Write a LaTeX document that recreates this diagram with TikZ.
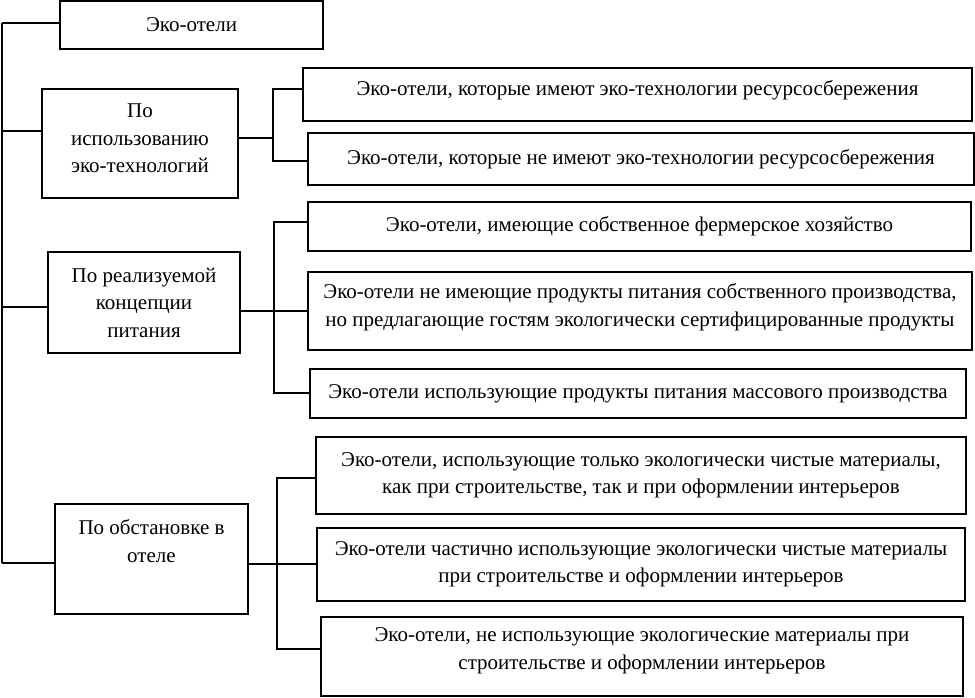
\documentclass[tikz,border=0pt]{standalone}
\usepackage{fontspec}
\setmainfont{Liberation Serif}
\begin{document}
\begin{tikzpicture}[x=1pt,y=-1pt,
  box/.style={draw, line width=1.3pt, inner sep=0pt, align=center,
    font=\fontsize{21}{27.5}\selectfont},
  txt/.style={inner sep=0pt, align=center, font=\fontsize{21}{27.5}\selectfont},
  conn/.style={line width=1.3pt}]
\useasboundingbox (0,0) rectangle (975,698);
% left column
\node[box, minimum width=263, minimum height=48] (T) at (191.5,25) {Эко-отели};
\node[box, minimum width=196, minimum height=109] (B1) at (140,143.5) {};
\node[txt] (B1t) at (140,138.5) {По\\использованию\\эко-технологий};
\node[box, minimum width=192, minimum height=101] (B2) at (144,302.5) {По реализуемой\\концепции\\питания};
\node[box, minimum width=193, minimum height=110] (B3) at (151.5,559) {По обстановке в\\отеле\\\strut};
% right column
\node[box, minimum width=669, minimum height=53] (A) at (637.5,94.5) {};
\node[txt] (At) at (637.5,90) {Эко-отели, которые имеют эко-технологии ресурсосбережения};
\node[box, minimum width=666, minimum height=52] (B) at (641,159) {Эко-отели, которые не имеют эко-технологии ресурсосбережения};
\node[box, minimum width=663, minimum height=49] (C) at (639.5,226.5) {Эко-отели, имеющие собственное фермерское хозяйство};
\node[box, minimum width=664, minimum height=78] (D) at (640,311) {};
\node[txt] (Dt) at (640,307) {Эко-отели не имеющие продукты питания собственного производства,\\но предлагающие гостям экологически сертифицированные продукты};
\node[box, minimum width=656, minimum height=49] (E) at (638,393.5) {Эко-отели использующие продукты питания массового производства};
\node[box, minimum width=650, minimum height=77] (F) at (641,475.5) {Эко-отели, использующие только экологически чистые материалы,\\как при строительстве, так и при оформлении интерьеров};
\node[box, minimum width=648, minimum height=73] (G) at (641,564.5) {Эко-отели частично использующие экологически чистые материалы\\при строительстве и оформлении интерьеров};
\node[box, minimum width=642, minimum height=79] (H) at (642,656.5) {};
\node[txt] (Ht) at (642,651) {Эко-отели, не использующие экологические материалы при\\строительстве и оформлении интерьеров};
% trunk
\coordinate (tr0) at (2,23);
\coordinate (tr1) at (2,563);
\draw[conn] (tr0) -- (tr1);
\draw[conn] (tr0) -- (T.west |- tr0);
\draw[conn] (tr0 |- 0,131) -- (B1.west |- 0,131);
\draw[conn] (tr0 |- 0,307) -- (B2.west |- 0,307);
\draw[conn] (tr1) -- (B3.west |- tr1);
% branch 1
\coordinate (j1) at (273,138);
\draw[conn] (B1.east |- j1) -- (j1);
\draw[conn] (A.west |- 0,89) -- (j1 |- 0,89) -- (j1 |- 0,161) -- (B.west |- 0,161);
% branch 2
\coordinate (j2) at (274,311);
\draw[conn] (B2.east |- j2) -- (D.west |- j2);
\draw[conn] (C.west |- 0,222) -- (j2 |- 0,222) -- (j2 |- 0,393) -- (E.west |- 0,393);
% branch 3
\coordinate (j3) at (277,564);
\draw[conn] (B3.east |- j3) -- (G.west |- j3);
\draw[conn] (F.west |- 0,478) -- (j3 |- 0,478) -- (j3 |- 0,649) -- (H.west |- 0,649);
\end{tikzpicture}
\end{document}
